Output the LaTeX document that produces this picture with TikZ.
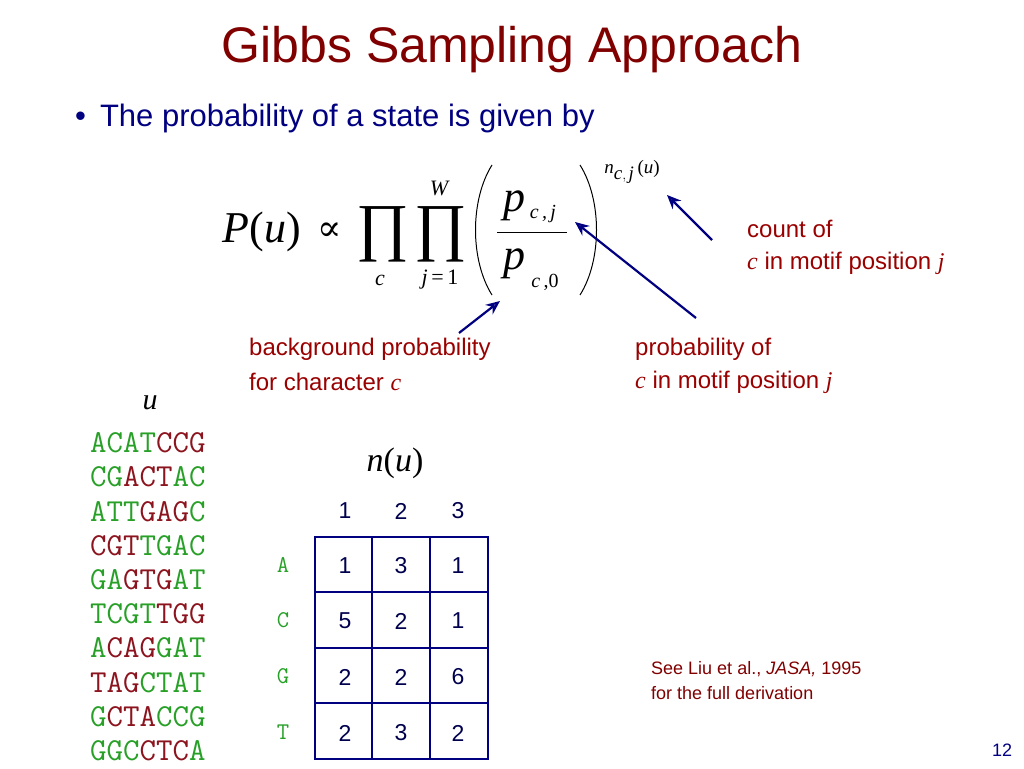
\documentclass[tikz,border=0pt]{standalone}
\usepackage{fontspec}
\setmainfont{Liberation Sans}
\newfontfamily\serifm{Liberation Serif}
\newfontfamily\dvs{DejaVu Serif}
\usetikzlibrary{arrows.meta}
\definecolor{ttl}{RGB}{128,0,0}
\definecolor{nav}{RGB}{0,0,128}
\definecolor{lab}{RGB}{153,0,0}
\definecolor{gr}{RGB}{40,160,40}
\definecolor{rd}{RGB}{140,20,30}
\newcommand{\R}[1]{\textcolor{rd}{#1}}
\newcommand{\G}[1]{\textcolor{gr}{#1}}
\newcommand{\vi}[1]{{\serifm\itshape #1}}
\begin{document}
\begin{tikzpicture}[x=1pt,y=-1pt,
  lbl/.style={anchor=west,text=lab,font=\fontsize{24}{26}\selectfont,inner sep=0},
  seq/.style={anchor=west,font=\fontsize{32}{34}\selectfont\ttfamily,inner sep=0},
  num/.style={font=\fontsize{23}{25}\selectfont,text=nav!60!black,inner sep=0},
  rl/.style={font=\fontsize{24}{26}\selectfont\ttfamily,text=gr,inner sep=0},
  arr/.style={draw=nav,line width=2.2pt,-{Stealth[length=14pt,width=12pt,open]}}]
\useasboundingbox (0,0) rectangle (1024,768);
\node[text=ttl,font=\fontsize{50}{54}\selectfont,inner sep=0] (title) at (512,50) {Gibbs Sampling Approach};
\node[anchor=west,text=nav,font=\fontsize{31}{34}\selectfont,inner sep=0] (bul) at (75,118) {\textbullet\hspace{14pt}The probability of a state is given by};
% formula
\node[font=\fontsize{44}{48}\selectfont\serifm,inner sep=0] (Pu) at (262,232) {\textit{P}(\textit{u})};
\node[font=\fontsize{36}{40}\selectfont\dvs,inner sep=0] (prop) at (330,232) {∝};
\node[inner sep=0,font=\fontsize{64}{68}\selectfont\serifm] (p1) at (383,234) {∏};
\node[inner sep=0,font=\fontsize{64}{68}\selectfont\serifm] (p2) at (441,234) {∏};
\node[font=\fontsize{22}{24}\selectfont\serifm\itshape,inner sep=0] (W) at (439,188) {W};
\node[font=\fontsize{22}{24}\selectfont\serifm,inner sep=0] (c) at (380,280) {\textit{c}};
\node[font=\fontsize{22}{24}\selectfont\serifm,inner sep=0] (j1) at (440,280) {\textit{j}\,=\,1};
\node[font=\fontsize{44}{48}\selectfont\serifm\itshape,inner sep=0] (pn) at (514,206) {p};
\node[font=\fontsize{20}{22}\selectfont\serifm\itshape,inner sep=0] (pns) at (543,214) {c\,,\,j};
\node[font=\fontsize{44}{48}\selectfont\serifm\itshape,inner sep=0] (pd) at (514,264) {p};
\node[font=\fontsize{20}{22}\selectfont\serifm,inner sep=0] (pds) at (545,282) {\textit{c}\,,0};
\draw[line width=1pt] (497,232) -- (567,232);
\draw[line width=1pt] (492,165) .. controls (470,200) and (470,260) .. (492,295);
\draw[line width=1pt] (580,165) .. controls (602,200) and (602,260) .. (580,295);
\node[font=\fontsize{19}{21}\selectfont\serifm,inner sep=0] (ex) at (632,172) {\textit{n}$_{\textit{c},\,\textit{j}}$\,(\textit{u})};
% labels
\node[lbl] (cnt1) at (747,229) {count of};
\node[lbl] (cnt2) at (747,263) {\vi{c} in motif position \vi{j}};
\node[lbl] (bg1) at (249,349) {background probability};
\node[lbl] (bg2) at (249,382) {for character \vi{c}};
\node[lbl] (pr1) at (635,349) {probability of};
\node[lbl] (pr2) at (635,382) {\vi{c} in motif position \vi{j}};
\coordinate (a1s) at (712,240); \coordinate (a1e) at (667,195);
\coordinate (a2s) at (696,318); \coordinate (a2e) at (575,222);
\coordinate (a3s) at (500,301); \coordinate (a3e) at (459,333);
\draw[arr] (a1s) -- (a1e);
\draw[arr] (a2s) -- (a2e);
\draw[arr] (a3e) -- (a3s);
% sequences
\node[font=\fontsize{30}{32}\selectfont\serifm\itshape,inner sep=0] (u) at (150,403) {u};
\node[seq] (s1) at (90,443) {\G{ACAT}\R{CCG}};
\node[seq] (s2) at (90,477) {\G{CG}\R{ACT}\G{AC}};
\node[seq] (s3) at (90,512) {\G{ATT}\R{GAG}\G{C}};
\node[seq] (s4) at (90,546) {\R{CGT}\G{TGAC}};
\node[seq] (s5) at (90,580) {\G{GA}\R{GTG}\G{AT}};
\node[seq] (s6) at (90,614) {\G{TCGT}\R{TGG}};
\node[seq] (s7) at (90,648) {\G{A}\R{CAG}\G{GAT}};
\node[seq] (s8) at (90,683) {\R{TAG}\G{CTAT}};
\node[seq] (s9) at (90,717) {\G{G}\R{CTA}\G{CCG}};
\node[seq] (s10) at (90,751) {\G{GGC}\R{CTC}\G{A}};
% table
\node[font=\fontsize{34}{36}\selectfont\serifm,inner sep=0] (nu) at (395,463) {\textit{n}(\textit{u})};
\foreach \x/\t in {345/1,401/2,458/3} \node[num] (h\t) at (\x,511) {\t};
\draw[draw=nav,line width=1.3pt] (315,537) rectangle (488,759);
\foreach \x in {372,430} \draw[draw=nav,line width=1.3pt] (\x,537) -- (\x,759);
\foreach \y in {592,648,703} \draw[draw=nav,line width=1.3pt] (315,\y) -- (488,\y);
\foreach \y/\l in {565/A,620/C,676/G,732/T} \node[rl] (r\l) at (283,\y) {\l};
\foreach \r/\y/\a/\b/\c in {1/565/1/3/1,2/620/5/2/1,3/676/2/2/6,4/732/2/3/2}{
  \node[num] (c\r a) at (345,\y+1) {\a};
  \node[num] (c\r b) at (401,\y+1) {\b};
  \node[num] (c\r c) at (458,\y+1) {\c};}
\node[anchor=west,text=ttl,font=\fontsize{18}{20}\selectfont,inner sep=0] (see1) at (651,669) {See Liu et al., \textit{JASA,} 1995};
\node[anchor=west,text=ttl,font=\fontsize{18}{20}\selectfont,inner sep=0] (see2) at (651,693) {for the full derivation};
\node[text=nav,font=\fontsize{18}{20}\selectfont,inner sep=0] (pg) at (1002,750) {12};
\end{tikzpicture}
\end{document}
